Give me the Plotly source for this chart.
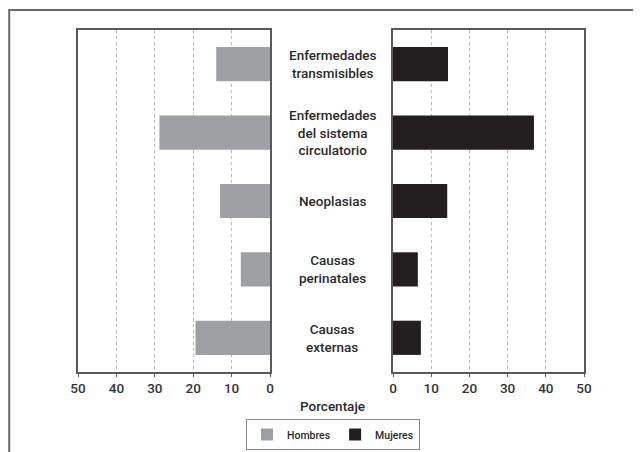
import plotly.graph_objects as go

categories = ["Enfermedades<br>transmisibles",
              "Enfermedades<br>del sistema<br>circulatorio",
              "Neoplasias",
              "Causas<br>perinatales",
              "Causas<br>externas"]
hombres = [14.0, 28.8, 13.0, 7.6, 19.4]
mujeres = [14.4, 36.9, 14.2, 6.5, 7.3]
tick_vals = [0, 10, 20, 30, 40, 50]
tick_text = ["0", "10", "20", "30", "40", "50"]

W, H = 641, 452
OFF = 8  # page body margin offset
FONT = "Roboto"
GREY = "#9fa0a3"
BLACK = "#231f20"
AX = "#5a5a5a"

def px(x):
    return (x - OFF) / W

def py(y):
    return 1 - (y - OFF) / H

fig = go.Figure()
fig.add_trace(go.Bar(y=categories, x=hombres, orientation="h", name="Hombres",
                     marker=dict(color=GREY, line=dict(width=0)),
                     xaxis="x", yaxis="y"))
fig.add_trace(go.Bar(y=categories, x=mujeres, orientation="h", name="Mujeres",
                     marker=dict(color=BLACK, line=dict(width=0)),
                     xaxis="x2", yaxis="y2"))

common_x = dict(tickvals=tick_vals, ticktext=tick_text, showgrid=True,
                gridcolor="#b8b8b8", griddash="dot", gridwidth=1,
                showline=True, linecolor=AX, linewidth=1.5, mirror=True,
                ticks="outside", ticklen=3, tickcolor=AX, zeroline=False,
                automargin=False,
                tickfont=dict(family=FONT, size=13.5, color="#333", weight=500))
common_y = dict(categoryorder="array", categoryarray=categories,
                autorange="reversed", showticklabels=False, showline=True,
                linecolor=AX, linewidth=1.5, mirror=True, ticks="",
                showgrid=False, zeroline=False, automargin=False)

annotations = []
for c in categories:
    annotations.append(dict(x=px(332), y=c, xref="paper", yref="y", text=c,
                            showarrow=False, align="center", yanchor="middle",
                            font=dict(family=FONT, size=13.5, color="#2a2a2a", weight=500)))
annotations.append(dict(x=px(332), y=py(406), xref="paper", yref="paper",
                        text="Porcentaje", showarrow=False,
                        xanchor="center", yanchor="middle",
                        font=dict(family=FONT, size=13.5, color="#2a2a2a", weight=500)))

fig.update_layout(
    template="none",
    width=W, height=H,
    margin=dict(l=0, r=0, t=0, b=0, pad=0),
    paper_bgcolor="white", plot_bgcolor="white",
    bargap=0.5,
    showlegend=True,
    xaxis=dict(domain=[px(78), px(270)], range=[50, 0], anchor="y", **common_x),
    xaxis2=dict(domain=[px(393), px(584)], range=[0, 50], anchor="y2", **common_x),
    yaxis=dict(domain=[py(372), py(30)], anchor="x", **common_y),
    yaxis2=dict(domain=[py(372), py(30)], anchor="x2", **common_y),
    legend=dict(orientation="h", x=px(333), xanchor="center", y=py(419), yanchor="top",
                bordercolor="#888", borderwidth=1, bgcolor="white",
                font=dict(family=FONT, size=10.5, color="#2a2a2a", weight=500),
                itemwidth=30, tracegroupgap=0),
    annotations=annotations,
    shapes=[dict(type="rect", xref="paper", yref="paper",
                 x0=1.2 / W, x1=1.05, y0=-0.05, y1=py(10),
                 line=dict(color="#6a6a6a", width=2), layer="below")],
)

fig.write_html("out.html")
